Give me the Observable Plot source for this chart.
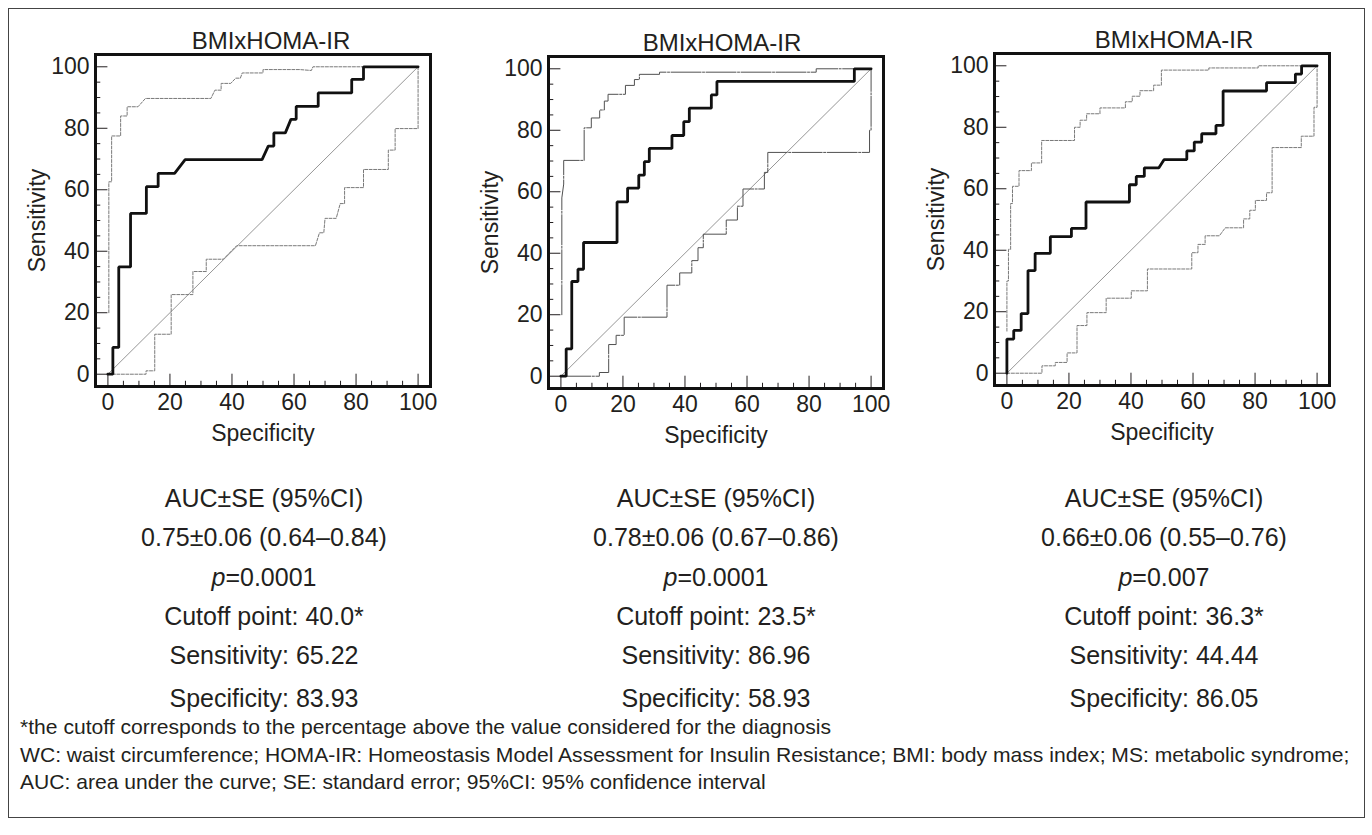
<!DOCTYPE html>
<html>
<head>
<meta charset="utf-8">
<script src="https://cdn.jsdelivr.net/npm/d3@7"></script>
<script src="https://cdn.jsdelivr.net/npm/@observablehq/plot@0.6"></script>
<style>
  html, body { margin: 0; padding: 0; background: #fff; }
  #root { position: relative; width: 1372px; height: 835px; overflow: hidden;
          font-family: "Liberation Sans", Arial, Helvetica, sans-serif; color: #231f20; }
  #box { position: absolute; left: 8px; top: 8px; width: 1357px; height: 810px; border: 1px solid #444; box-sizing: border-box; }
  .panel { position: absolute; }
  .stat { position: absolute; width: 420px; text-align: center; font-size: 25px; line-height: 25px; white-space: nowrap; }
  .note { position: absolute; left: 20px; font-size: 21.1px; line-height: 21px; white-space: nowrap; }
</style>
</head>
<body>
<div id="root"><div id="box"></div></div>
<script>
// ---------- data ----------
const panelTitle = "BMIxHOMA-IR";
const majorTicks = [0, 20, 40, 60, 80, 100];
const minorTicks = [5, 10, 15, 25, 30, 35, 45, 50, 55, 65, 70, 75, 85, 90, 95];
const diagonal = [[0, 0], [100, 100]];

// Panel 1 (ROC curve + 95% CI bands), [x, sensitivity]
const p1Roc = [[0,0],[1.6,0],[1.6,8.7],[3.5,8.7],[3.5,34.9],[7.3,34.9],[7.3,52.3],[12.4,52.3],[12.4,61],[16.2,61],[16.2,65.3],[21.5,65.3],[24.9,69.8],[49.7,69.8],[51.7,74.2],[53.5,74.2],[53.5,78.5],[57.2,78.5],[59,82.9],[60.7,82.9],[60.7,87.1],[67.8,87.1],[67.8,91.5],[78.6,91.5],[78.6,95.9],[82.4,95.9],[82.4,100],[100,100]];
const p1Upper = [[0.3,20],[0.3,62.6],[1.2,62.6],[1.2,77.5],[4.1,77.5],[4.1,84],[6.2,84],[6.2,87],[9.7,87],[12.1,89.7],[33.2,89.7],[34.5,92.4],[36.5,92.4],[36.5,94.6],[39.6,94.6],[41.2,96.3],[42.7,96.3],[43.3,98],[50,98],[50,99.1],[61.8,99.1],[65.6,98.8],[66.1,100],[100,100]];
const p1Lower = [[0,0],[12.3,0],[12.3,1.1],[15.1,1.1],[15.1,13],[20.4,13],[20.4,25.9],[27.4,25.9],[27.4,33.4],[31.7,33.4],[31.7,37.4],[37.2,37.4],[41.5,41.8],[66.9,41.8],[68.2,46],[69.6,46],[70,50.7],[73.6,50.7],[74.9,55.5],[76.3,55.5],[76.3,60.7],[82.4,60.7],[82.4,66.6],[90.4,66.6],[90.4,72.9],[92.6,72.9],[92.6,79.9],[100,79.9],[100,100]];

// Panel 2
const p2Roc = [[0,0],[1.7,0],[1.7,8.9],[3.5,8.9],[3.5,30.8],[5.5,30.8],[5.5,34.8],[7.3,34.8],[7.3,43.5],[18.1,43.5],[18.1,56.7],[21.5,56.7],[21.5,61.2],[25.1,61.2],[25.1,65.4],[26.9,65.4],[26.9,69.8],[28.5,69.8],[28.5,74.1],[35.8,74.1],[35.8,78.3],[39.6,78.3],[39.6,82.8],[41.4,82.8],[41.4,87.2],[48.5,87.2],[48.5,91.5],[50.3,91.5],[50.3,95.9],[94.6,95.9],[94.6,100],[100,100]];
const p2Upper = [[0.3,20],[0.3,58],[0.9,62.5],[0.9,70.2],[7.5,70.2],[7.5,80.8],[9.8,80.8],[9.8,84],[12.5,84],[12.5,86.6],[14,86.6],[14,89.5],[15.2,89.5],[15.2,91.7],[20.8,91.7],[20.8,94.6],[23.7,94.6],[23.7,96.5],[25.3,96.5],[25.3,98.2],[31.8,98.2],[31.8,98.9],[82.3,98.9],[82.3,100],[100,100]];
const p2Lower = [[0,0],[12.4,0],[12.4,1.2],[15.4,1.2],[15.4,10.3],[17.8,10.3],[17.8,13.3],[20.4,13.3],[20.4,19.2],[34.2,19.2],[34.2,29.6],[38.3,29.6],[38.3,33.6],[42.2,33.6],[42.2,37.6],[44.2,37.6],[44.2,41.8],[45.9,41.8],[45.9,46.2],[53.3,46.2],[53.3,50.8],[56.9,50.8],[56.9,55.3],[58.7,55.3],[58.7,60.9],[65.6,60.9],[65.6,66.3],[66.7,66.3],[66.7,72.8],[99.5,72.8],[99.5,80],[100,80],[100,100]];

// Panel 3
const p3Roc = [[0,0],[0,11.1],[2.2,11.1],[2.2,13.9],[4.6,13.9],[4.6,19.4],[6.8,19.4],[6.8,33.4],[9.1,33.4],[9.1,39],[14,39],[14,44.4],[20.8,44.4],[20.8,47.1],[25.5,47.1],[25.5,55.7],[39.5,55.7],[39.5,61.3],[41.7,61.3],[41.7,64],[44.3,64],[44.3,66.8],[49,66.8],[50.7,69.5],[58,69.5],[58,72.3],[60.4,72.3],[60.4,75.2],[62.8,75.2],[62.8,77.9],[67.4,77.9],[67.4,80.6],[69.7,80.6],[69.7,91.8],[83.7,91.8],[83.7,94.5],[93,94.5],[93,97.3],[95,97.3],[95,100],[100,100]];
const p3Upper = [[0,13.7],[0,30],[0.5,30],[0.5,40.3],[1.2,40.3],[1.2,55.2],[1.8,55.2],[1.8,60.8],[3.9,60.8],[3.9,65.9],[7.9,65.9],[7.9,68.4],[11.2,68.4],[11.2,75.7],[21.8,75.7],[21.8,80],[23.6,80],[23.6,82.3],[25.7,82.3],[25.7,84.4],[30,84.4],[30,86.3],[38.2,86.3],[38.2,88.3],[40.4,88.3],[40.4,90.1],[42.9,90.1],[42.9,91.9],[47.3,91.9],[47.3,93.7],[49.8,93.7],[49.8,98.6],[65.1,98.6],[65.1,99.3],[81,99.3],[81,100],[100,100]];
const p3Lower = [[0,0],[11.3,0],[11.3,2.4],[15.6,2.4],[15.6,3.5],[19.4,3.5],[19.4,6.6],[22.6,6.6],[22.6,15.5],[25.8,15.5],[25.8,19.7],[32,19.7],[32,24.4],[40.1,24.4],[40.1,26.8],[45.3,26.8],[45.3,33.9],[59.6,33.9],[59.6,39.2],[61.6,39.2],[61.6,41.9],[63.9,41.9],[63.9,44.7],[68.5,44.7],[70.4,47.3],[76.3,47.3],[76.3,50.2],[78.3,50.2],[78.3,53],[80.1,53],[80.1,56.2],[83.7,56.2],[83.7,58.7],[85.5,58.7],[85.5,73.4],[94.9,73.4],[94.9,77.1],[99,77.1],[99,86.5],[100,86.5],[100,100]];

// Statistics under each panel
const aucSe = ["0.75±0.06 (0.64–0.84)", "0.78±0.06 (0.67–0.86)", "0.66±0.06 (0.55–0.76)"];
const pValues = ["0.0001", "0.0001", "0.007"];
const cutoffs = ["40.0", "23.5", "36.3"];
const sensValues = ["65.22", "86.96", "44.44"];
const specValues = ["83.93", "58.93", "86.05"];
const footnotes = [
  "*the cutoff corresponds to the percentage above the value considered for the diagnosis",
  "WC: waist circumference; HOMA-IR: Homeostasis Model Assessment for Insulin Resistance; BMI: body mass index; MS: metabolic syndrome;",
  "AUC: area under the curve; SE: standard error; 95%CI: 95% confidence interval"
];

// ---------- layout ----------
const M = {left: 95, top: 54, right: 10, bottom: 70};
const FW = 335, FH = 332;
const panels = [
  {roc: p1Roc, up: p1Upper, lo: p1Lower, left: 95, top: 54, ci: "#7a7a7a", dash: "3,1.5", tdx: 8},
  {roc: p2Roc, up: p2Upper, lo: p2Lower, left: 548, top: 56, ci: "#505050", dash: "30,1.5,2,1.5", tdx: 6},
  {roc: p3Roc, up: p3Upper, lo: p3Lower, left: 994, top: 53, ci: "#7a7a7a", dash: "3,1.5", tdx: 12}
];

const root = document.getElementById("root");
const ink = "#231f20";

panels.forEach((p, i) => {
  const chart = Plot.plot({
    width: M.left + FW + M.right,
    height: M.top + FH + M.bottom,
    marginLeft: M.left, marginRight: M.right, marginTop: M.top, marginBottom: M.bottom,
    x: {domain: [-4, 104]},
    y: {domain: [-4, 104]},
    style: {fontFamily: '"Liberation Sans", Arial, Helvetica, sans-serif', fontSize: "23px", color: ink, background: "transparent", overflow: "visible"},
    marks: [
      Plot.ruleY(minorTicks, {y: d => d, x1: -4, x2: -2.3, stroke: ink, strokeWidth: 1}),
      Plot.ruleY(majorTicks, {y: d => d, x1: -4, x2: 0, stroke: ink, strokeWidth: 1}),
      Plot.ruleX(minorTicks, {x: d => d, y1: -4, y2: -2.3, stroke: ink, strokeWidth: 1}),
      Plot.ruleX(majorTicks, {x: d => d, y1: -4, y2: 0, stroke: ink, strokeWidth: 1}),
      Plot.line(diagonal, {x: d => d[0], y: d => d[1], stroke: "#8a8a8a", strokeWidth: 0.9}),
      Plot.line(p.lo, {x: d => d[0], y: d => d[1], stroke: p.ci, strokeWidth: 1, strokeDasharray: p.dash}),
      Plot.line(p.up, {x: d => d[0], y: d => d[1], stroke: p.ci, strokeWidth: 1, strokeDasharray: p.dash}),
      Plot.line(p.roc, {x: d => d[0], y: d => d[1], stroke: "#111", strokeWidth: 2.8, strokeLinejoin: "miter"}),
      Plot.frame({stroke: "#111", strokeWidth: 3}),
      Plot.axisX(majorTicks, {tickSize: 0, tickPadding: 7, fontSize: 23, label: "Specificity", labelAnchor: "center", labelOffset: 54, labelArrow: "none"}),
      Plot.axisY(majorTicks, {tickSize: 0, tickPadding: 6, fontSize: 23, label: "Sensitivity", labelAnchor: "center", labelOffset: 67, labelArrow: "none"}),
      Plot.text([panelTitle], {text: d => d, frameAnchor: "top", lineAnchor: "bottom", dy: -6, dx: p.tdx, fontSize: 24, fill: ink})
    ]
  });
  chart.classList.add("panel");
  chart.style.left = (p.left - M.left) + "px";
  chart.style.top = (p.top - M.top) + "px";
  root.appendChild(chart);
});

// statistics text
const centers = [264, 716, 1164];
const baselines = [507, 546, 586, 625, 664, 707];
const fs = 25;
centers.forEach((cx, i) => {
  const lines = [
    "AUC±SE (95%CI)",
    aucSe[i],
    "<i>p</i>=" + pValues[i],
    "Cutoff point: " + cutoffs[i] + "*",
    "Sensitivity: " + sensValues[i],
    "Specificity: " + specValues[i]
  ];
  lines.forEach((t, j) => {
    const d = document.createElement("div");
    d.className = "stat";
    d.innerHTML = t;
    d.style.left = (cx - 210) + "px";
    d.style.top = (baselines[j] - 0.8465 * fs) + "px";
    root.appendChild(d);
  });
});

const noteBase = [734, 762, 789];
const nfs = 21;
footnotes.forEach((t, j) => {
  const d = document.createElement("div");
  d.className = "note";
  d.textContent = t;
  d.style.top = (noteBase[j] - 0.8465 * nfs) + "px";
  root.appendChild(d);
});
</script>
</body>
</html>
